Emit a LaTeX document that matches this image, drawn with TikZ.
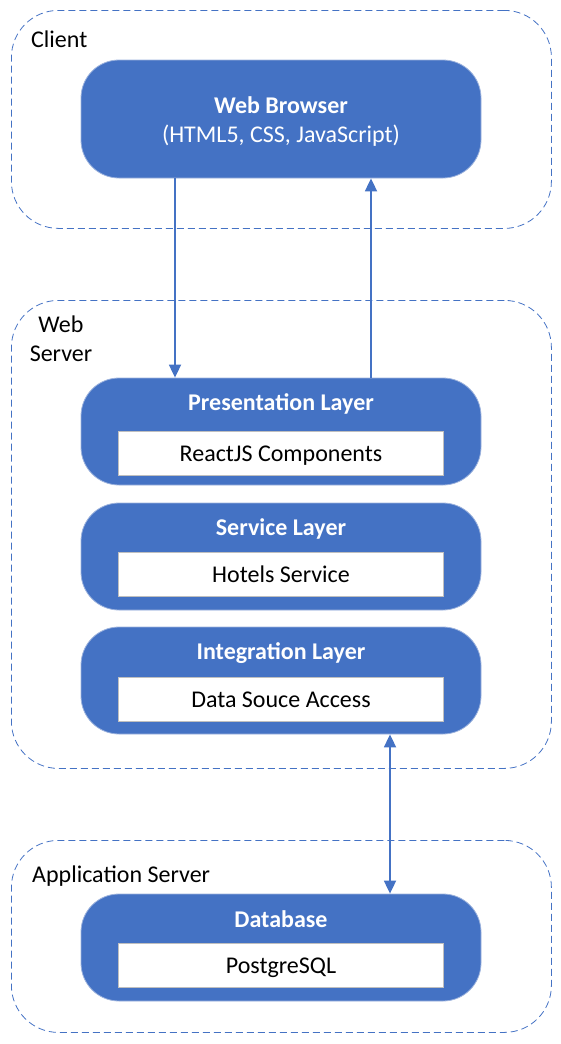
\documentclass[tikz,border=0pt]{standalone}
\usepackage{fontspec}
\setmainfont{Carlito}
\usepackage{xcolor}
\usetikzlibrary{shapes,arrows.meta,positioning}

\definecolor{tierblue}{HTML}{4472C4}
\definecolor{tieredge}{HTML}{9DB3DD}
\definecolor{inneredge}{HTML}{BFBFBF}

\tikzset{
    tierframe/.style={
        draw=tierblue,
        line width=0.8pt,
        dash pattern=on 7pt off 4pt,
        rounded corners=47pt,
        minimum width=540pt,
        anchor=north west,
        inner sep=0pt
    },
    layerbox/.style={
        fill=tierblue,
        draw=tieredge,
        line width=0.8pt,
        rounded corners=38pt,
        minimum width=400pt,
        inner sep=0pt
    },
    layertitle/.style={
        text=white,
        font=\fontsize{24}{29}\selectfont\bfseries,
        anchor=base,
        inner sep=0pt
    },
    layersub/.style={
        text=white,
        anchor=base,
        inner sep=0pt
    },
    innerbox/.style={
        fill=white,
        draw=inneredge,
        line width=0.6pt,
        minimum width=325pt,
        minimum height=44pt,
        text height=16pt,
        text depth=0pt,
        inner sep=0pt
    },
    tierlabel/.style={
        anchor=base west,
        inner sep=0pt
    },
    link/.style={
        draw=tierblue,
        line width=1.8pt,
        -{Triangle[width=12pt,length=13pt]}
    },
    twoway/.style={
        draw=tierblue,
        line width=1.8pt,
        {Triangle[width=12pt,length=13pt]}-{Triangle[width=12pt,length=13pt]}
    }
}

\begin{document}
\begin{tikzpicture}[x=1pt,y=-1pt,font=\fontsize{24}{29}\selectfont]
                \useasboundingbox (0,0) rectangle (561,1044);

                \node[tierframe, minimum height=218pt] (client) at (11,10) {};
                \node[tierframe, minimum height=468pt] (webserver) at (11,300) {};
                \node[tierframe, minimum height=192pt] (appserver) at (11,840) {};

                \node[tierlabel] (clientL) at (31,47) {Client};
                \node[align=center, anchor=north, inner sep=0pt] (webserverL) at (61,316) {Web\\Server};
                \node[tierlabel] (appserverL) at (32,882) {Application Server};

                \node[layerbox, minimum height=118pt] (browser) at (281,119) {};
                \node[layertitle] (browserT) at (281,113) {Web Browser};
                \node[layersub] (browserS) at (281,142) {(HTML5, CSS, JavaScript)};

                \node[layerbox, minimum height=107pt] (pres) at (281,431.5) {};
                \node[layertitle] (presT) at (281,410) {Presentation Layer};
                \node[innerbox] (presI) at (281,453) {ReactJS Components};

                \node[layerbox, minimum height=107pt] (service) at (281,556.5) {};
                \node[layertitle] (serviceT) at (281,535) {Service Layer};
                \node[innerbox] (serviceI) at (281,574.5) {Hotels Service};

                \node[layerbox, minimum height=107pt] (integ) at (281,680.5) {};
                \node[layertitle] (integT) at (281,659) {Integration Layer};
                \node[innerbox] (integI) at (281,699) {Data Souce Access};

                \node[layerbox, minimum height=107pt] (db) at (281,947.5) {};
                \node[layertitle] (dbT) at (281,927) {Database};
                \node[innerbox] (dbI) at (281,965) {PostgreSQL};

                \draw[link] ([xshift=-106pt]browser.south) -- ([xshift=-106pt]pres.north);
                \draw[link] ([xshift=90pt]pres.north) -- ([xshift=90pt]browser.south);
                \draw[twoway] ([xshift=109pt]integ.south) -- ([xshift=109pt]db.north);

\end{tikzpicture}
\end{document}
